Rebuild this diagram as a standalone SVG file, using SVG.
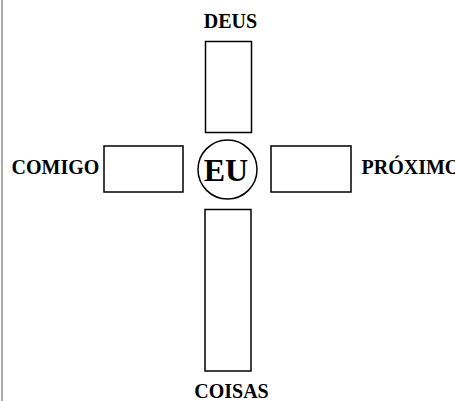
<svg xmlns="http://www.w3.org/2000/svg" width="455" height="401" viewBox="0 0 455 401">
<style>
.box{fill:#fff;stroke:#000;stroke-width:1.5}
.lbl{font-family:"Liberation Serif","Times New Roman",serif;font-weight:bold;font-size:20px;fill:#000}
.eu{font-family:"Liberation Serif","Times New Roman",serif;font-weight:bold;font-size:32px;fill:#000}
</style>
<rect x="0" y="0" width="455" height="401" fill="#fff"/>
<rect x="1" y="0" width="2" height="401" fill="#aaa"/>
<g id="connectors"></g>
<g id="deus">
<rect class="box" x="205.5" y="41.5" width="46" height="91"/>
<text class="lbl" x="230.5" y="27.5" text-anchor="middle">DEUS</text>
</g>
<g id="comigo">
<rect class="box" x="104" y="146" width="79" height="46"/>
<text class="lbl" x="11.5" y="173.5">COMIGO</text>
</g>
<g id="eu">
<circle class="box" cx="227.5" cy="169.5" r="29.5"/>
<text class="eu" x="226" y="180.5" text-anchor="middle">EU</text>
</g>
<g id="proximo">
<rect class="box" x="271" y="146" width="80" height="46"/>
<text class="lbl" x="361.5" y="173.5">PRÓXIMO</text>
</g>
<g id="coisas">
<rect class="box" x="205" y="209.5" width="46" height="161.5"/>
<text class="lbl" x="231.5" y="398" text-anchor="middle">COISAS</text>
</g>
</svg>
